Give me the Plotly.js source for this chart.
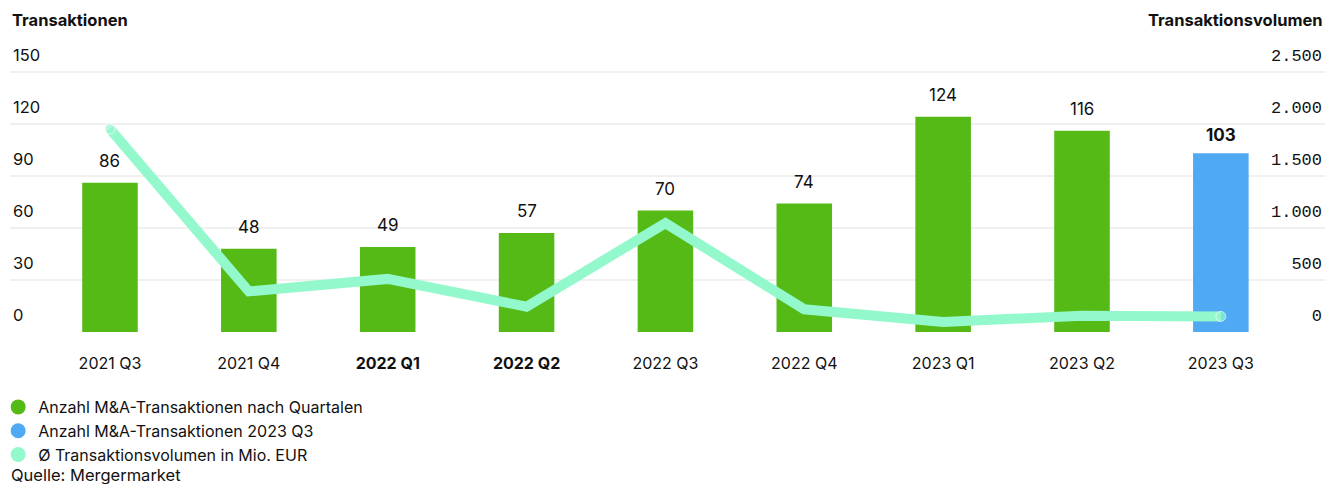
<!DOCTYPE html>
<html><head><meta charset="utf-8">
<script src="https://cdn.plot.ly/plotly-3.0.1.min.js"></script>
<style>html,body{margin:0;padding:0;background:#fff}#chart{width:1328px;height:484px}</style>
</head><body><div id="chart"></div>
<script>
const categories = ["2021 Q3","2021 Q4","2022 Q1","2022 Q2","2022 Q3","2022 Q4","2023 Q1","2023 Q2","2023 Q3"];
const transactions = [86,48,49,57,70,74,124,116,103];
const volume = [1950,390,510,243,1045,218,96,157,150];
const highlightIndex = 8;
const boldCategories = ["2022 Q1","2022 Q2"];
const leftTicks = [0,30,60,90,120,150];
const rightTicks = [0,500,1000,1500,2000,2500];
const seriesNames = ["Anzahl M&A-Transaktionen nach Quartalen","Anzahl M&A-Transaktionen 2023 Q3","Ø Transaktionsvolumen in Mio. EUR"];
const leftTitle = "Transaktionen";
const rightTitle = "Transaktionsvolumen";
const sourceText = "Quelle: Mergermarket";

const GREEN = "#55b916", BLUE = "#4fa9f3", MINT = "#93f9cc", TXT = "#111111";
const FONT = "Inter, 'Liberation Sans', sans-serif";

const greenVals = transactions.map((v,i)=> i===highlightIndex ? null : v);
const blueVals = transactions.map((v,i)=> i===highlightIndex ? v : null);

// plot area: top 70, bottom 332 (height 262); axis tops extended so the top gridline stays inside
const PH = 262;
const yTop = 151, y2Top = 2500*151/150;
const py = px => (332 - px) / PH; // paper y from page pixel

const traces = [
  {type:"bar", x:categories, y:greenVals, marker:{color:GREEN}, width:0.4, showlegend:false, hoverinfo:"skip"},
  {type:"bar", x:categories, y:blueVals, marker:{color:BLUE}, width:0.4, showlegend:false, hoverinfo:"skip"},
  {type:"scatter", mode:"lines+markers", x:categories, y:volume, yaxis:"y2",
   line:{color:MINT, width:10},
   marker:{color:MINT, size:volume.map((v,i)=> (i===0||i===volume.length-1)?10:0)},
   showlegend:false, hoverinfo:"skip", cliponaxis:false},
  {type:"scatter", mode:"markers", x:[null], y:[null], name:seriesNames[0], marker:{color:GREEN, size:15, symbol:"circle"}},
  {type:"scatter", mode:"markers", x:[null], y:[null], name:seriesNames[1], marker:{color:BLUE, size:15, symbol:"circle"}},
  {type:"scatter", mode:"markers", x:[null], y:[null], name:seriesNames[2], marker:{color:MINT, size:15, symbol:"circle"}}
];

const annotations = categories.map((c,i)=>({
  x:c, y:transactions[i], xref:"x", yref:"y", yanchor:"bottom", yshift: i===highlightIndex ? 6 : 10,
  text: i===highlightIndex ? "<b>"+transactions[i]+"</b>" : String(transactions[i]),
  showarrow:false, font:{family:FONT, size:17, color:TXT}
}));
annotations.push(
  {xref:"paper", yref:"paper", x:0, y:py(20), xanchor:"left", yanchor:"middle", text:"<b>"+leftTitle+"</b>", showarrow:false, font:{family:FONT, size:16.5, color:TXT}},
  {xref:"paper", yref:"paper", x:1, y:py(20), xanchor:"right", yanchor:"middle", text:"<b>"+rightTitle+"</b>", showarrow:false, font:{family:FONT, size:16.5, color:TXT}},
  {xref:"paper", yref:"paper", x:-0.001, y:py(475), xanchor:"left", yanchor:"middle", text:sourceText, showarrow:false, font:{family:FONT, size:16.5, color:TXT}}
);

const layout = {
  width:1328, height:484,
  margin:{l:10, r:3, t:70, b:152, pad:0, autoexpand:false},
  paper_bgcolor:"#fff", plot_bgcolor:"#fff",
  font:{family:FONT, color:TXT, size:15},
  separators:",.",
  barmode:"overlay",
  showlegend:true,
  legend:{orientation:"v", x:-0.009, xanchor:"left", y:py(390), yanchor:"top", font:{family:FONT, size:16, color:TXT}, itemwidth:30, tracegroupgap:0, bgcolor:"rgba(0,0,0,0)"},
  xaxis:{type:"category", categoryarray:categories, range:[-0.72, 8.75],
    tickvals:categories, ticktext:categories.map(c=> boldCategories.includes(c) ? "<b>"+c+"</b>" : c),
    showgrid:false, zeroline:false, showline:false, ticks:"", ticklabelstandoff:20,
    tickfont:{family:FONT, size:16, color:TXT}, fixedrange:true, automargin:false},
  yaxis:{range:[0,yTop], tickvals:leftTicks, showgrid:true, gridcolor:"#f0f0f0", gridwidth:2,
    zeroline:false, showline:false, ticks:"", ticklabelposition:"inside top", ticklabeloverflow:"allow",
    ticklabelshift:-5, automargin:false,
    tickfont:{family:FONT, size:16.5, color:TXT}, fixedrange:true},
  yaxis2:{range:[0,y2Top], tickvals:rightTicks, tickformat:",", overlaying:"y", side:"right",
    showgrid:false, zeroline:false, showline:false, ticks:"", ticklabelposition:"inside top", ticklabeloverflow:"allow",
    ticklabelshift:-5, automargin:false,
    tickfont:{family:"'Liberation Mono', monospace", size:17, color:TXT}, fixedrange:true},
  annotations:annotations
};

Plotly.newPlot("chart", traces, layout, {displayModeBar:false, staticPlot:true});
</script>
</body></html>
